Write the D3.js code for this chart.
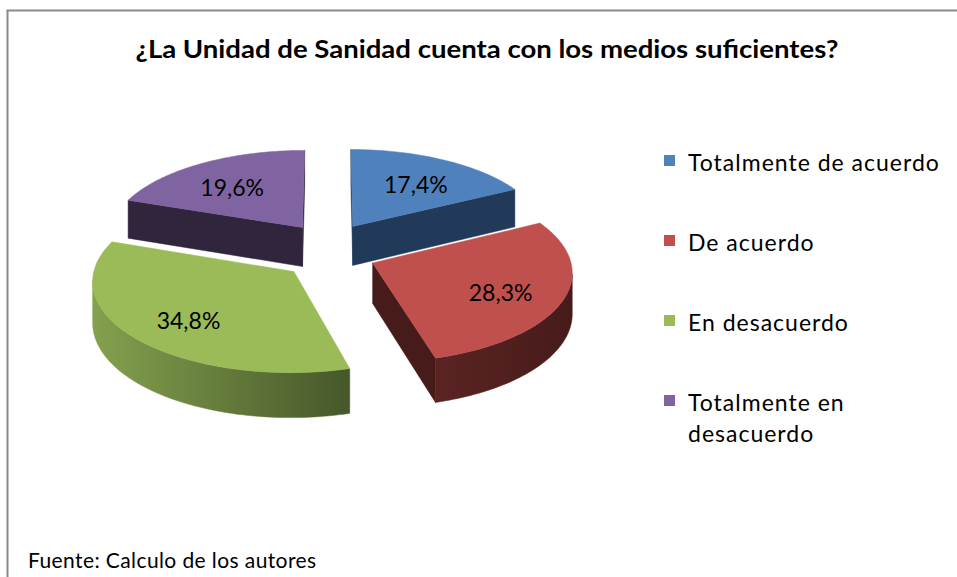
<!DOCTYPE html>
<html>
<head>
<meta charset="utf-8">
<script src="https://cdn.jsdelivr.net/npm/d3@7"></script>
<style>
  body { margin: 0; background: #fff; }
  text { font-family: Lato, "Open Sans", sans-serif; fill: #000; }
</style>
</head>
<body>
<div id="chart"></div>
<script>
// data
const title = "¿La Unidad de Sanidad cuenta con los medios suficientes?";
const source = "Fuente: Calculo de los autores";
const categories = ["Totalmente de acuerdo", "De acuerdo", "En desacuerdo", "Totalmente en desacuerdo"];
const values = [17.4, 28.3, 34.8, 19.6];
const legendLines = [["Totalmente de acuerdo"], ["De acuerdo"], ["En desacuerdo"], ["Totalmente en", "desacuerdo"]];

// colours: top face, then side shading (light -> dark)
const topColors = ["#4f81bd", "#c0504d", "#9bbb59", "#8064a2"];
const sideColors = [["#27436a", "#213a5a"], ["#5a2423", "#471b1a"], ["#84a14e", "#46572a"], ["#3b2c4a", "#31243d"]];

const width = 957;
const height = 577;

// 3d pie geometry
const cx = 329, cy = 251, R = 196;
const tilt = 0.449;     // vertical squash of the disc
const persp = 0.09;     // perspective strength
const depth = 40;       // slice thickness
const explode = 47;
const explodeZ = 1.4;
const D = R / persp;    // camera distance in front of the centre

const svg = d3.select("#chart").append("svg").attr("width", width).attr("height", height);
const defs = svg.append("defs");

// frame (only the left and top edges are inside the picture)
svg.append("rect").attr("x", 7.5).attr("y", 10.5).attr("width", 1000).attr("height", 700)
  .attr("fill", "none").attr("stroke", "#8a8a8a").attr("stroke-width", 2);

// title
svg.append("text").attr("x", 487).attr("y", 58).attr("text-anchor", "middle")
  .style("font-size", "24px").style("font-weight", "bold")
  .attr("textLength", 703).attr("lengthAdjust", "spacingAndGlyphs")
  .text(title);

// projection: X to the right, Z away from the viewer, h downwards
function proj(X, Z, h) {
  const s = 1 / (1 + Z / D);
  return [cx + X * s, cy + (-Z * tilt + h) * s];
}

const pie = d3.pie().sort(null).startAngle(0).endAngle(2 * Math.PI);
const arcs = pie(values);
const fmt = d3.formatLocale({ decimal: ",", thousands: ".", grouping: [3], currency: ["", ""] }).format(".1f");

const slices = arcs.map((a, i) => {
  const mid = (a.startAngle + a.endAngle) / 2;
  return {
    i, a, mid,
    ox: explode * Math.sin(mid),
    oz: explode * Math.cos(mid) * explodeZ
  };
});

const line = d3.line();

function pt(sl, th, r, h) {
  return proj(sl.ox + r * Math.sin(th), sl.oz + r * Math.cos(th), h);
}

// is a vertical face with outward normal (nx, nz) through (px, pz) facing the camera?
function facing(nx, nz, px, pz) {
  return nx * (0 - px) + nz * (-D - pz) > 0;
}

// draw far slices first
const order = slices.slice().sort((p, q) => q.oz - p.oz);
const pieG = svg.append("g");

order.forEach(sl => {
  const g = pieG.append("g");
  const s0 = sl.a.startAngle, s1 = sl.a.endAngle;
  const n = 80;
  const ths = d3.range(n + 1).map(j => s0 + (s1 - s0) * j / n);
  const dark = sideColors[sl.i][1];

  // radial faces
  [[s0, -1], [s1, 1]].forEach(([th, dir]) => {
    const nx = dir * Math.cos(th), nz = -dir * Math.sin(th);
    if (!facing(nx, nz, sl.ox, sl.oz)) return;
    const poly = [pt(sl, th, 0, 0), pt(sl, th, R, 0), pt(sl, th, R, depth), pt(sl, th, 0, depth)];
    g.append("path").attr("d", line(poly) + "Z").attr("fill", dark)
      .attr("stroke", dark).attr("stroke-width", 0.5);
  });

  // outer curved side, visible runs only
  let runs = [], cur = null;
  for (let j = 0; j < n; j++) {
    const tm = (ths[j] + ths[j + 1]) / 2;
    const vis = facing(Math.sin(tm), Math.cos(tm), sl.ox + R * Math.sin(tm), sl.oz + R * Math.cos(tm));
    if (vis) {
      if (!cur) { cur = [j, j + 1]; runs.push(cur); } else cur[1] = j + 1;
    } else cur = null;
  }
  runs.forEach((run, k) => {
    const tt = ths.slice(run[0], run[1] + 1);
    const topPts = tt.map(t => pt(sl, t, R, 0));
    const botPts = tt.map(t => pt(sl, t, R, depth)).reverse();
    const poly = topPts.concat(botPts);
    const xs = d3.extent(poly, p => p[0]);
    const id = "side" + sl.i + "_" + k;
    const grad = defs.append("linearGradient").attr("id", id)
      .attr("gradientUnits", "userSpaceOnUse")
      .attr("x1", xs[0]).attr("x2", xs[1]).attr("y1", 0).attr("y2", 0);
    grad.append("stop").attr("offset", 0).attr("stop-color", sideColors[sl.i][0]);
    grad.append("stop").attr("offset", 1).attr("stop-color", sideColors[sl.i][1]);
    g.append("path").attr("d", line(poly) + "Z").attr("fill", `url(#${id})`)
      .attr("stroke", `url(#${id})`).attr("stroke-width", 0.5);
  });

  // top face
  const topPoly = [pt(sl, 0, 0, 0)].concat(ths.map(t => pt(sl, t, R, 0)));
  g.append("path").attr("d", line(topPoly) + "Z").attr("fill", topColors[sl.i])
    .attr("stroke", topColors[sl.i]).attr("stroke-width", 0.5);
});

// data labels
slices.forEach(sl => {
  const p = pt(sl, sl.mid, R * 0.68, 0);
  svg.append("text").attr("x", p[0]).attr("y", p[1] + 5).attr("dy", "0.35em")
    .attr("text-anchor", "middle").style("font-size", "23px")
    .text(fmt(values[sl.i]) + "%");
});

// legend
const legendY = d3.scaleLinear().domain([0, 3]).range([155, 395]);
const legend = svg.append("g");
categories.forEach((c, i) => {
  legend.append("rect").attr("x", 664).attr("y", legendY(i)).attr("width", 11).attr("height", 11)
    .attr("fill", topColors[i]);
  legendLines[i].forEach((ln, j) => {
    legend.append("text").attr("x", 688).attr("y", legendY(i) + 16 + j * 31)
      .style("font-size", "23px").style("letter-spacing", "1px").text(ln);
  });
});

// source note
svg.append("text").attr("x", 28).attr("y", 568).style("font-size", "21px")
  .style("letter-spacing", "0.4px").text(source);
</script>
</body>
</html>
